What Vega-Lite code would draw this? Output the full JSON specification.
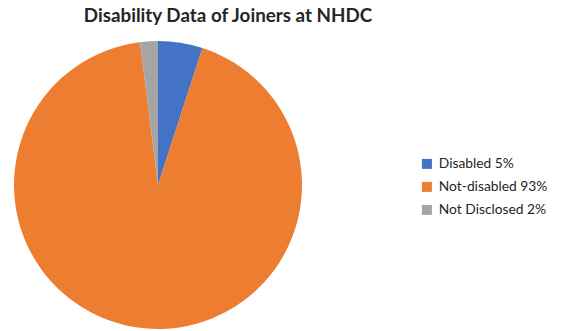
{
  "$schema": "https://vega.github.io/schema/vega-lite/v6.json",
  "autosize": {"type": "none"},
  "width": 288,
  "height": 288,
  "padding": {"left": 14, "top": 41, "right": 262, "bottom": 2},
  "background": "white",
  "title": {
    "text": "Disability Data of Joiners at NHDC",
    "anchor": "middle",
    "dx": 70,
    "offset": 15,
    "font": "Lato",
    "fontSize": 18.8,
    "fontWeight": "bold",
    "color": "#262626"
  },
  "data": {
    "values": [
      {"idx": 1, "status": "Disabled 5%", "pct": 5},
      {"idx": 2, "status": "Not-disabled 93%", "pct": 93},
      {"idx": 3, "status": "Not Disclosed 2%", "pct": 2}
    ]
  },
  "mark": {"type": "arc", "outerRadius": 144},
  "encoding": {
    "theta": {"field": "pct", "type": "quantitative", "stack": true},
    "order": {"field": "idx", "type": "quantitative"},
    "color": {
      "field": "status",
      "type": "nominal",
      "scale": {
        "domain": ["Disabled 5%", "Not-disabled 93%", "Not Disclosed 2%"],
        "range": ["#4472C4", "#ED7D31", "#A5A5A5"]
      },
      "legend": {
        "title": null,
        "orient": "none",
        "legendX": 406,
        "legendY": 116,
        "symbolType": "square",
        "symbolSize": 100,
        "symbolStrokeWidth": 0,
        "rowPadding": 8,
        "labelFont": "Lato",
        "labelFontSize": 13.8,
        "labelColor": "#262626",
        "labelOffset": 5
      }
    }
  },
  "config": {"view": {"stroke": null}}
}
